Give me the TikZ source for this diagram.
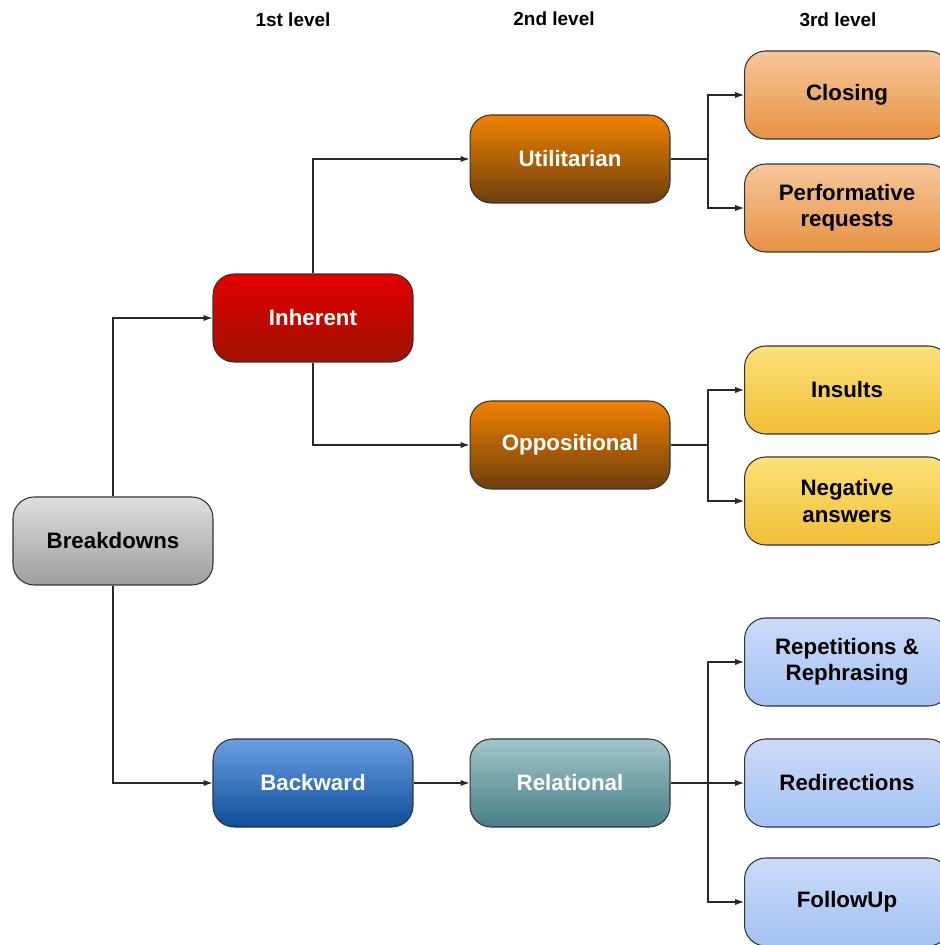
\documentclass[tikz,border=0pt]{standalone}
\usepackage{fontspec}
\setmainfont{Liberation Sans}
\usetikzlibrary{arrows.meta}
\definecolor{boxBorder}{RGB}{51,51,51}
\definecolor{lineGray}{RGB}{40,40,40}
\definecolor{grayTop}{RGB}{222,222,222}
\definecolor{grayBottom}{RGB}{158,158,158}
\definecolor{redTop}{RGB}{226,0,0}
\definecolor{redBottom}{RGB}{160,18,0}
\definecolor{blueTop}{RGB}{108,158,226}
\definecolor{blueBottom}{RGB}{12,78,152}
\definecolor{brownTop}{RGB}{242,130,0}
\definecolor{brownBottom}{RGB}{108,62,14}
\definecolor{tealTop}{RGB}{162,198,202}
\definecolor{tealBottom}{RGB}{72,126,134}
\definecolor{peachTop}{RGB}{247,198,156}
\definecolor{peachBottom}{RGB}{230,146,66}
\definecolor{yellowTop}{RGB}{253,225,122}
\definecolor{yellowBottom}{RGB}{241,190,54}
\definecolor{skyTop}{RGB}{203,219,248}
\definecolor{skyBottom}{RGB}{163,193,243}
\tikzset{
  box/.style={rectangle, rounded corners=12, draw=boxBorder, line width=0.6pt,
    minimum width=4cm, minimum height=1.76cm, align=center,
    font=\fontsize{12.7}{15}\selectfont\bfseries},
  leafbox/.style={box, text=black, minimum width=4.1cm},
  levelhead/.style={font=\fontsize{10.8}{13}\selectfont\bfseries},
  link/.style={draw=lineGray, line width=0.6pt},
}

\begin{document}
\begin{tikzpicture}[x=0.02cm, y=-0.02cm]
		\useasboundingbox (0,0) rectangle (939,945);
		\node (h1) at (293,20) [levelhead] {1st level};
		\node (h2) at (554,19) [levelhead] {2nd level};
		\node (h3) at (838,20) [levelhead] {3rd level};

		% root and first level
		\node (break) at (113,541) [box, top color=grayTop, bottom color=grayBottom] {Breakdowns};
		\begin{scope}[every node/.style={box, text=white}]
			\node (inh) at (313,318) [top color=redTop, bottom color=redBottom] {Inherent};
			\node (back) at (313,783) [top color=blueTop, bottom color=blueBottom] {Backward};
			\node (util) at (570,159) [top color=brownTop, bottom color=brownBottom] {Utilitarian};
			\node (oppo) at (570,445) [top color=brownTop, bottom color=brownBottom] {Oppositional};
			\node (rel) at (570,783) [top color=tealTop, bottom color=tealBottom] {Relational};
		\end{scope}

		% third level
		\begin{scope}[every node/.style={leafbox}]
			\node (clos) at (847,95) [top color=peachTop, bottom color=peachBottom] {Closing};
			\node (perf) at (847,208) [top color=peachTop, bottom color=peachBottom] {Performative\\requests};
			\node (ins) at (847,390) [top color=yellowTop, bottom color=yellowBottom] {Insults};
			\node (neg) at (847,501) [top color=yellowTop, bottom color=yellowBottom] {Negative\\answers};
			\node (rep) at (847,662) [top color=skyTop, bottom color=skyBottom] {Repetitions \&\\Rephrasing};
			\node (redir) at (847,783) [top color=skyTop, bottom color=skyBottom] {Redirections};
			\node (foll) at (847,902) [top color=skyTop, bottom color=skyBottom] {FollowUp};
		\end{scope}

		\coordinate (s1) at (708,159);
		\coordinate (s2) at (708,445);
		\coordinate (s3) at (708,783);

		\begin{scope}[every path/.style={link, -{Latex[length=5pt,width=3.5pt]}}]
			\draw (break) |- (inh);
			\draw (break) |- (back);
			\draw (inh) |- (util);
			\draw (inh) |- (oppo);
			\draw (back) -- (rel);
			\draw (util) -- (s1) |- (clos);
			\draw (s1) |- (perf);
			\draw (oppo) -- (s2) |- (ins);
			\draw (s2) |- (neg);
			\draw (rel) -- (redir);
			\draw (s3) |- (rep);
			\draw (s3) |- (foll);
		\end{scope}
\end{tikzpicture}
\end{document}
